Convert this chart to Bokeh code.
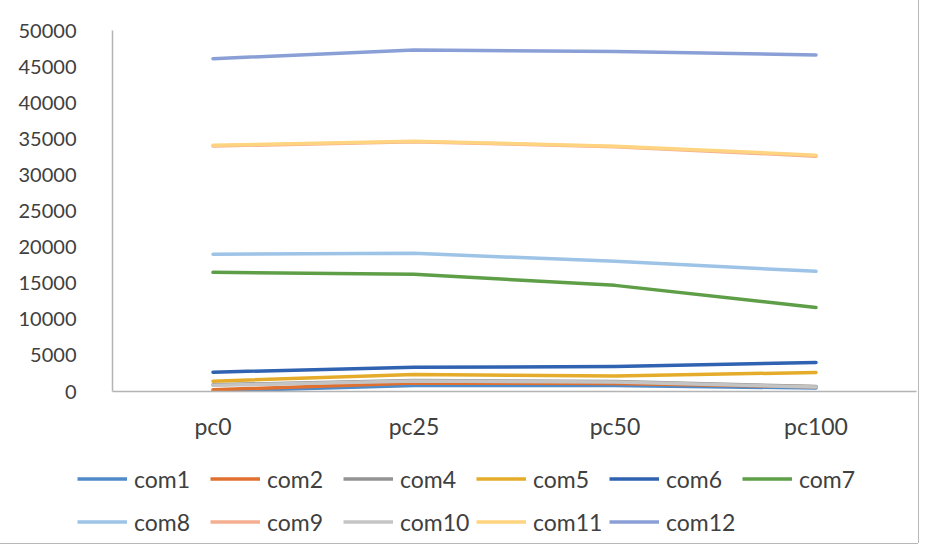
from bokeh.plotting import figure
from bokeh.models import FactorRange, Range1d, Legend, LegendItem
from bokeh.embed import file_html
from bokeh.resources import INLINE

categories = ["pc0", "pc25", "pc50", "pc100"]

series_names = ["com1", "com2", "com4", "com5", "com6", "com7",
                "com8", "com9", "com10", "com11", "com12"]

com1 = [30, 830, 830, 480]
com2 = [240, 1180, 1110, 650]
com4 = [930, 1530, 1390, 690]
com5 = [1430, 2360, 2150, 2640]
com6 = [2680, 3370, 3450, 4020]
com7 = [16500, 16230, 14700, 11650]
com8 = [19000, 19140, 18030, 16640]
com9 = [34000, 34600, 33900, 32600]
com10 = [850, 1450, 1300, 620]
com11 = [34100, 34670, 33980, 32730]
com12 = [46100, 47300, 47100, 46600]

series_values = [com1, com2, com4, com5, com6, com7,
                 com8, com9, com10, com11, com12]

colors = ["#4F8BC9", "#E0702F", "#939393", "#E5AC2B", "#2F62B0", "#5E9E47",
          "#9DC3E6", "#F4AE90", "#C4C4C4", "#FFD480", "#8A9FD6"]

y_ticks = [0, 5000, 10000, 15000, 20000, 25000, 30000, 35000, 40000, 45000, 50000]

FONT = "Lato"
W = 918
BORDER = "#B8B8B8"

# ---- main chart ----
p = figure(
    width=W, height=457,
    x_range=FactorRange(*categories, range_padding=0),
    y_range=Range1d(0, 50000),
    output_backend="svg", toolbar_location=None,
    min_border_left=112, min_border_right=2,
    min_border_top=30, min_border_bottom=66,
)
p.outline_line_color = None
p.grid.visible = False
p.background_fill_color = "white"
p.border_fill_color = "white"
p.styles = {"box-shadow": f"-1px 0 0 {BORDER}, 1px 0 0 {BORDER}, 0 -1px 0 {BORDER}"}

for name, vals, col in zip(series_names, series_values, colors):
    p.line(categories, vals, line_color=col, line_width=3.5,
           line_join="round", line_cap="round")

p.yaxis.ticker = y_ticks
p.yaxis.axis_line_color = "#B4B4B4"
p.yaxis.axis_line_width = 1.5
p.yaxis.major_tick_line_color = None
p.yaxis.minor_tick_line_color = None
p.yaxis.major_label_standoff = 30
p.yaxis.major_label_text_font = FONT
p.yaxis.major_label_text_font_size = "20px"
p.yaxis.major_label_text_color = "#404040"

p.xaxis.axis_line_color = "#B4B4B4"
p.xaxis.axis_line_width = 1.5
p.xaxis.major_tick_line_color = None
p.xaxis.minor_tick_line_color = None
p.xaxis.major_label_standoff = 14
p.xaxis.major_label_text_font = FONT
p.xaxis.major_label_text_font_size = "23px"
p.xaxis.major_label_text_color = "#404040"

# ---- legend strip (same series, drawn outside its visible range) ----
lg = figure(
    width=W, height=86,
    x_range=FactorRange(*categories, range_padding=0),
    y_range=Range1d(-2, -1),
    x_axis_type=None, y_axis_type=None,
    output_backend="svg", toolbar_location=None,
    min_border_left=0, min_border_right=0, min_border_top=0, min_border_bottom=0,
)
lg.outline_line_color = None
lg.background_fill_color = "white"
lg.border_fill_color = "white"
lg.styles = {"box-shadow": f"-1px 0 0 {BORDER}, 1px 0 0 {BORDER}, 0 1px 0 {BORDER}"}

items = []
for name, vals, col in zip(series_names, series_values, colors):
    r = lg.line(categories, vals, line_color=col, line_width=3.5)
    items.append(LegendItem(label=name, renderers=[r]))

legend = Legend(
    items=items,
    location=(77, 0),
    orientation="horizontal",
    ncols=6,
    glyph_width=50,
    glyph_height=43,
    label_height=43,
    label_width=76,
    label_standoff=7,
    spacing=0,
    padding=0,
    margin=0,
    border_line_color=None,
    background_fill_alpha=0,
    label_text_font=FONT,
    label_text_font_size="23px",
    label_text_color="#404040",
)
lg.add_layout(legend, "center")

open("out.html", "w").write(file_html([p, lg], INLINE))
